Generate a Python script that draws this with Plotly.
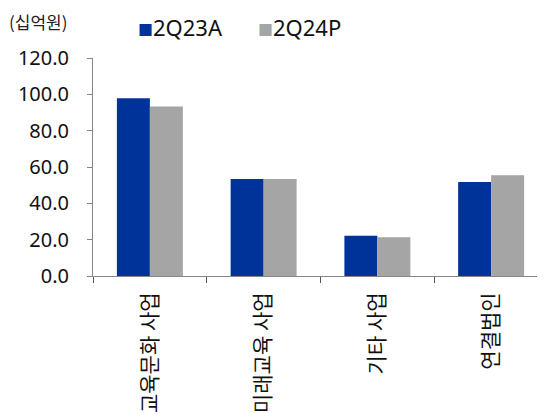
import plotly.graph_objects as go

categories = ["교육문화 사업", "미래교육 사업", "기타 사업", "연결법인"]
series_names = ["2Q23A", "2Q24P"]
values_2q23a = [97.9, 53.4, 22.2, 51.8]
values_2q24p = [93.3, 53.4, 21.3, 55.5]
colors = ["#003399", "#A5A5A5"]
y_ticks = [0, 20, 40, 60, 80, 100, 120]
unit_label = "(십억원)"

FONT = "Noto Sans, Noto Sans CJK KR, sans-serif"
KFONT = "Noto Sans CJK KR, Noto Sans, sans-serif"

fig = go.Figure()
for name, vals, col in zip(series_names, [values_2q23a, values_2q24p], colors):
    fig.add_trace(go.Bar(x=categories, y=vals, name=name, marker_color=col,
                         marker_line_width=0, showlegend=False))

# legend drawn as text with coloured squares, placed like the reference
legend_x = [0.0945, 0.3576]
for name, col, lx in zip(series_names, colors, legend_x):
    fig.add_annotation(
        text=f'<span style="color:{col};font-size:15px">■</span>{name}',
        xref="paper", yref="paper", x=lx, y=1.1436, xanchor="left", yanchor="middle",
        showarrow=False, font=dict(size=22, color="#111111", family=FONT))

fig.add_annotation(text=unit_label, xref="paper", yref="paper", x=-0.1868, y=1.2294,
                   xanchor="left", yanchor="top", showarrow=False, borderpad=0,
                   font=dict(size=17, color="#222222", family=KFONT))

fig.update_layout(
    width=540, height=414,
    margin=dict(l=85, r=0, t=50, b=146, autoexpand=False),
    barmode="group", bargap=0.42, bargroupgap=0,
    plot_bgcolor="white", paper_bgcolor="white",
    font=dict(family=FONT, size=20, color="#111111"),
)
fig.update_xaxes(
    type="category", range=[-0.5, 3.5], automargin=False,
    tickangle=-90, tickson="boundaries", ticks="outside", ticklen=6,
    tickcolor="#555555", showline=True, linecolor="#868686", linewidth=1,
    showgrid=False, ticklabelstandoff=7, tickfont=dict(size=21, family=KFONT),
)
fig.update_yaxes(
    range=[0, 120], tickvals=y_ticks, ticktext=[f"{v:.1f}" for v in y_ticks],
    automargin=False, ticks="outside", ticklen=5, tickcolor="#868686",
    showline=True, linecolor="#868686", linewidth=1, showgrid=False,
    zeroline=False, ticklabelstandoff=14, tickfont=dict(size=20, family=FONT),
)

fig.write_html("out.html")
